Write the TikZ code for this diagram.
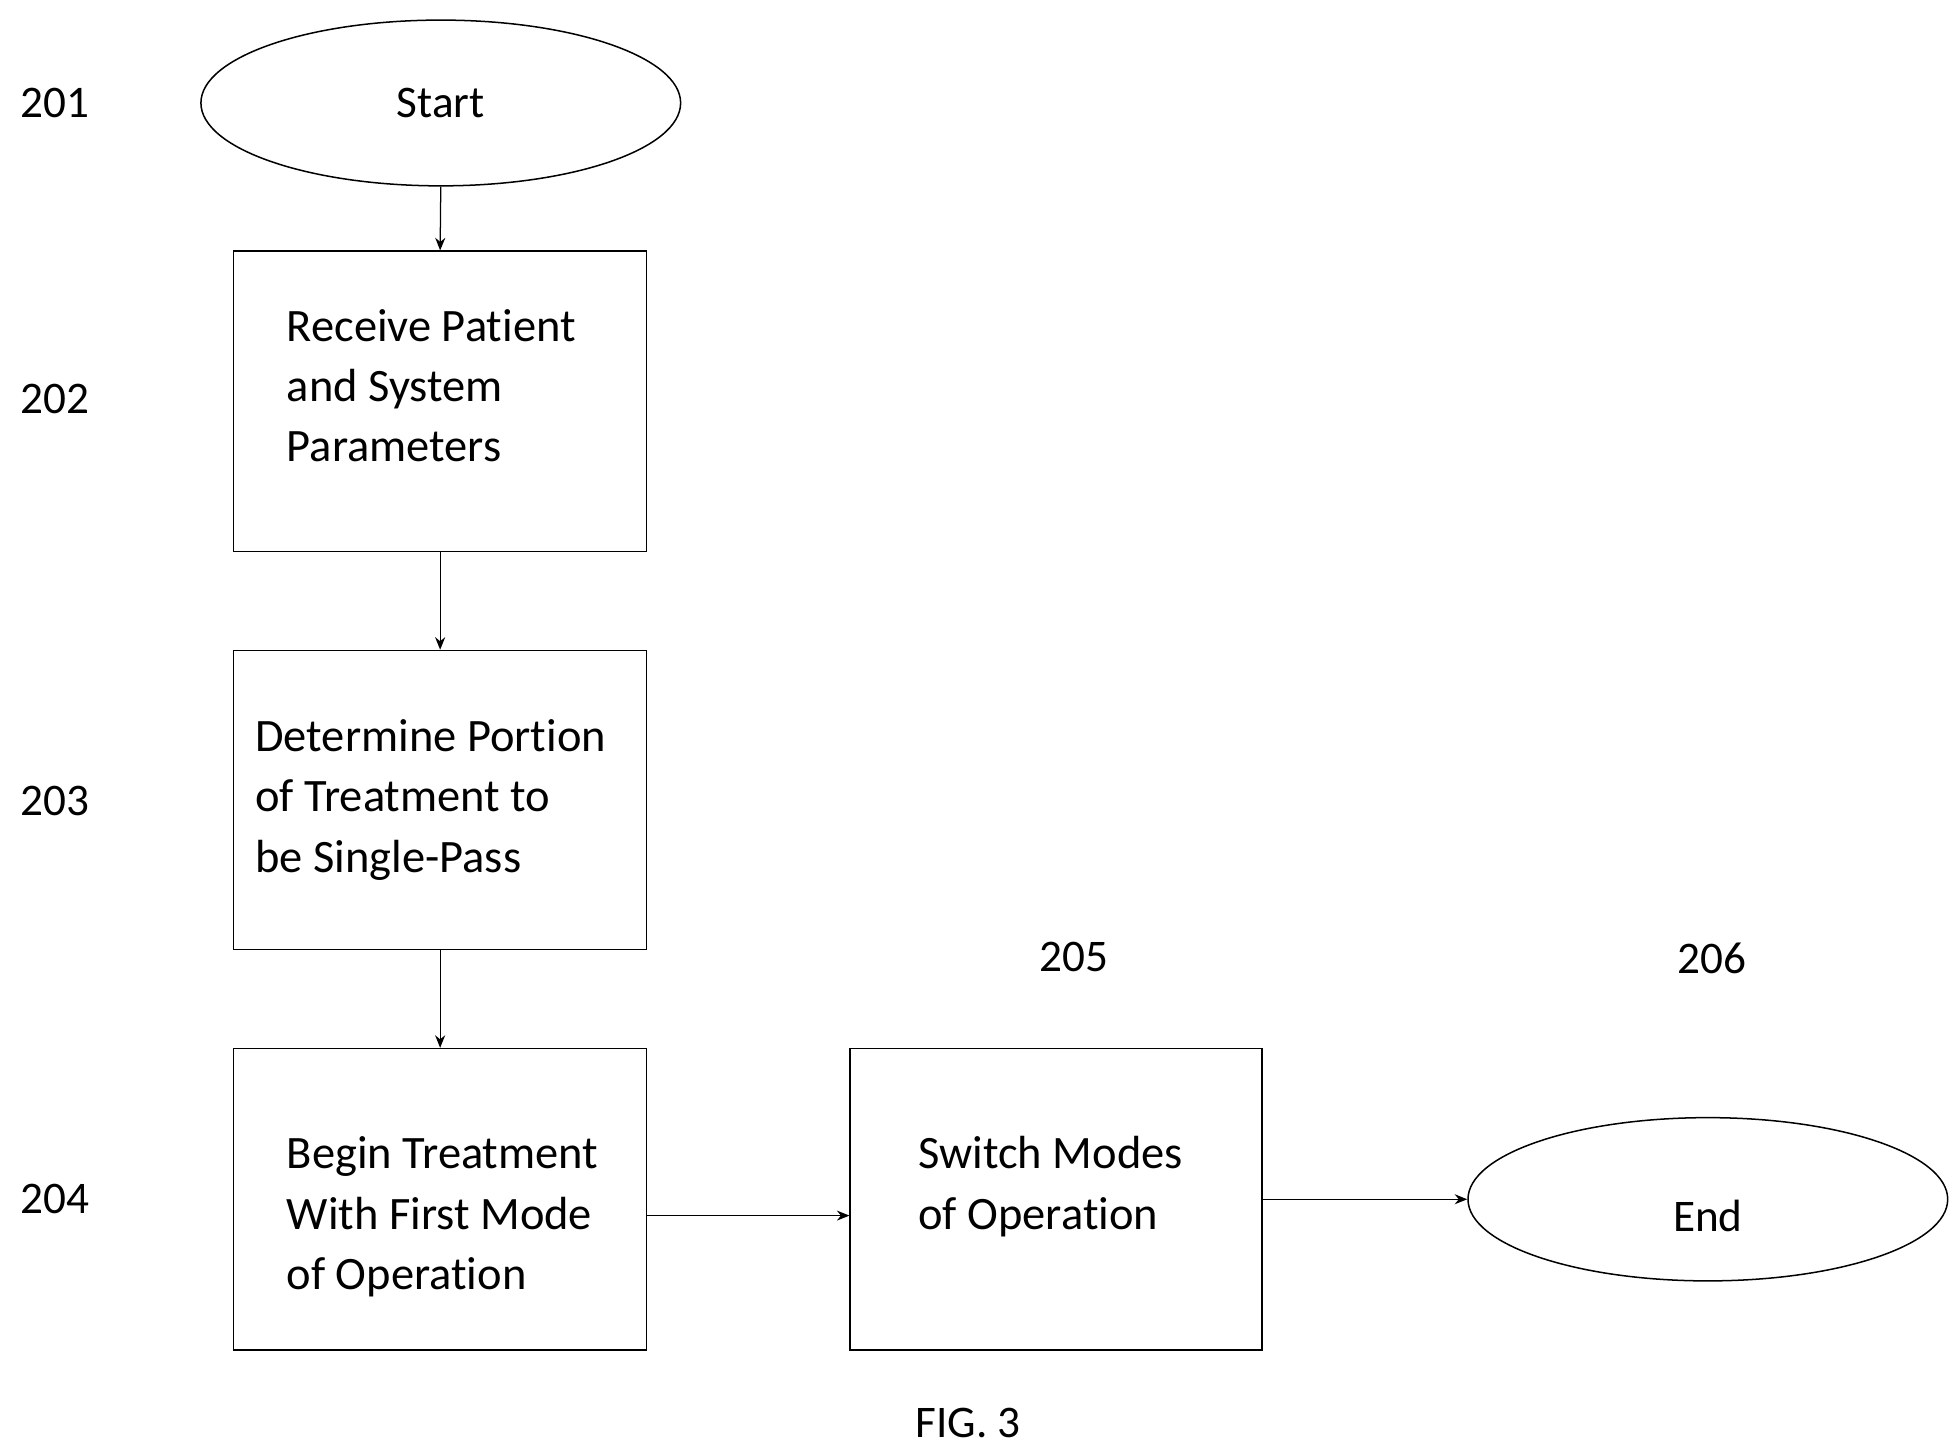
\documentclass[tikz,border=0pt]{standalone}
\usepackage{fontspec}
\setmainfont{Carlito}[RawFeature={-liga}]
\usetikzlibrary{shapes.geometric,arrows.meta}
\begin{document}
\begin{tikzpicture}[x=0.5pt,y=-0.5pt,
  box/.style={draw,line width=0.6pt,inner sep=0pt},
  oval/.style={draw,ellipse,line width=0.6pt,inner sep=0pt},
  txt/.style={anchor=west,align=left,font=\fontsize{18.5}{24}\selectfont,inner sep=0pt},
  lbl/.style={font=\fontsize{18}{20}\selectfont},
  arr/.style={-{Stealth[length=5pt,width=4pt]},line width=0.5pt}]
\useasboundingbox (0,0) rectangle (1560,1157);
\node[oval,minimum width=191pt,minimum height=66pt] (s) at (351,82) {};
\node[lbl] (st) at (351,82) {Start};
\node[box,minimum width=164.5pt,minimum height=119.5pt] (b2) at (350.5,319.5) {};
\node[box,minimum width=164.5pt,minimum height=119pt] (b3) at (350.5,637) {};
\node[box,minimum width=164.5pt,minimum height=120pt] (b4) at (350.5,955) {};
\node[box,minimum width=164pt,minimum height=120pt] (b5) at (841,955) {};
\node[oval,minimum width=191pt,minimum height=65pt] (e) at (1360,955) {};
\node[lbl] (et) at (1360,968) {End};
\node[txt] (t2) at (228,307) {Receive Patient\\and System\\Parameters};
\node[txt] (t3) at (203,637) {Determine Portion\\of Treatment to\\be Single-Pass};
\node[txt] (t4) at (228,969) {Begin Treatment\\With First Mode\\of Operation};
\node[txt] (t5) at (731,945) {Switch Modes\\of Operation};
\node[lbl] (l1) at (44,82) {201};
\node[lbl] (l2) at (44,318) {202};
\node[lbl] (l3) at (44,638) {203};
\node[lbl] (l4) at (44,955) {204};
\node[lbl] (l5) at (855,762) {205};
\node[lbl] (l6) at (1363,763) {206};
\node[lbl] (fig) at (771,1133) {FIG. 3};
\draw[arr] (s.south) -- (b2.north);
\draw[arr] (b2.south) -- (b3.north);
\draw[arr] (b3.south) -- (b4.north);
\draw[arr] ([yshift=-6.5pt]b4.east) -- ([yshift=-6.5pt]b5.west);
\draw[arr] (b5.east) -- (e.west);
\end{tikzpicture}
\end{document}
